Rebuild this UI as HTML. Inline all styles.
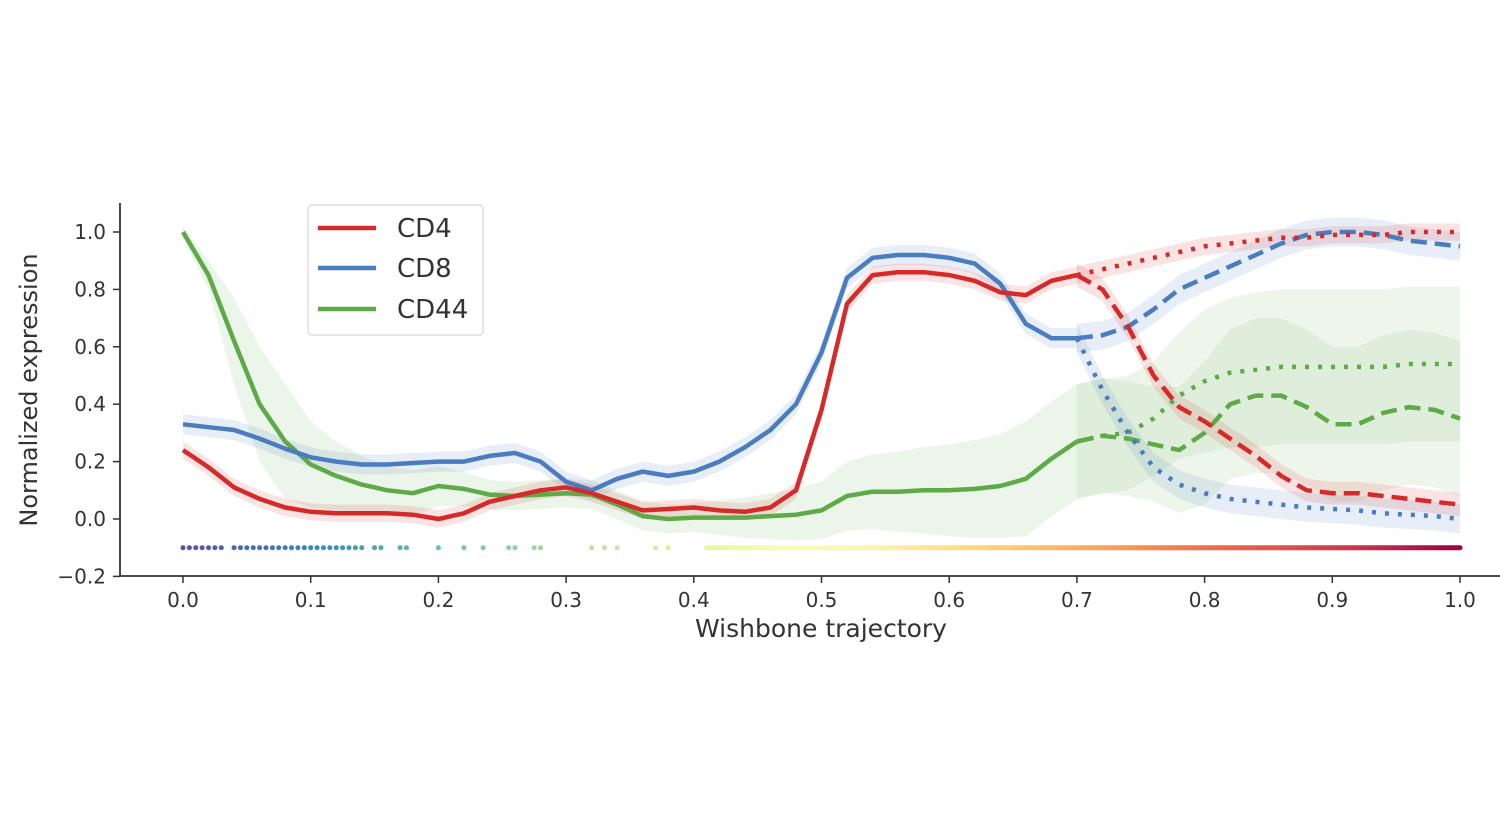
<!DOCTYPE html>
<html><head><meta charset="utf-8"><style>
html,body{margin:0;padding:0;background:#fff;}
svg{display:block;font-family:"DejaVu Sans","Liberation Sans",sans-serif;}
</style></head><body>
<svg id="chart" width="1500" height="839" viewBox="0 0 1500 839" xmlns="http://www.w3.org/2000/svg">
<g id="bands"></g>
<g id="lines"></g>
<g id="strip"></g>
<g id="axes"></g>
<g>
<rect x="308" y="205" width="175" height="130" rx="4" fill="#fff" fill-opacity="0.85" stroke="#ddd" stroke-width="1.5"/>
<line x1="318" y1="228" x2="376" y2="228" stroke="#d62a2a" stroke-width="4.5"/>
<text x="397" y="237" font-size="26" fill="#333">CD4</text>
<line x1="318" y1="268" x2="376" y2="268" stroke="#4a7cc0" stroke-width="4.5"/>
<text x="397" y="277" font-size="26" fill="#333">CD8</text>
<line x1="318" y1="309" x2="376" y2="309" stroke="#5daa46" stroke-width="4.5"/>
<text x="397" y="318" font-size="26" fill="#333">CD44</text>
</g>
<text x="821" y="637" font-size="25" fill="#333" text-anchor="middle">Wishbone trajectory</text>
<text transform="translate(37,390) rotate(-90)" font-size="24" fill="#333" text-anchor="middle">Normalized expression</text>
</svg>
<script>
const trunkX = [0,0.02,0.04,0.06,0.08,0.10,0.12,0.14,0.16,0.18,0.20,0.22,0.24,0.26,0.28,0.30,0.32,0.34,0.36,0.38,0.40,0.42,0.44,0.46,0.48,0.50,0.52,0.54,0.56,0.58,0.60,0.62,0.64,0.66,0.68,0.70];
const cd4Trunk = [0.24,0.18,0.11,0.07,0.04,0.025,0.02,0.02,0.02,0.015,0.0,0.02,0.06,0.08,0.10,0.11,0.09,0.06,0.03,0.035,0.04,0.03,0.025,0.04,0.10,0.38,0.75,0.85,0.86,0.86,0.85,0.83,0.79,0.78,0.83,0.85];
const cd8Trunk = [0.33,0.32,0.31,0.28,0.245,0.215,0.20,0.19,0.19,0.195,0.20,0.20,0.22,0.23,0.20,0.13,0.10,0.14,0.165,0.15,0.165,0.20,0.25,0.31,0.40,0.58,0.84,0.91,0.92,0.92,0.91,0.89,0.82,0.68,0.63,0.63];
const cd44Trunk = [1.0,0.85,0.62,0.40,0.27,0.19,0.15,0.12,0.10,0.09,0.115,0.105,0.085,0.08,0.085,0.09,0.085,0.05,0.01,0.0,0.005,0.005,0.005,0.01,0.015,0.03,0.08,0.095,0.095,0.10,0.10,0.105,0.115,0.14,0.21,0.27];
const cd44TrunkErr = [0.02,0.05,0.15,0.2,0.2,0.15,0.12,0.1,0.08,0.08,0.07,0.06,0.05,0.05,0.05,0.05,0.05,0.05,0.05,0.05,0.05,0.06,0.07,0.08,0.09,0.1,0.12,0.13,0.14,0.15,0.16,0.17,0.18,0.2,0.2,0.2];
const branchX = [0.70,0.72,0.74,0.76,0.78,0.80,0.82,0.84,0.86,0.88,0.90,0.92,0.94,0.96,0.98,1.0];
const cd4Dotted = [0.85,0.87,0.89,0.91,0.93,0.95,0.96,0.97,0.98,0.98,0.99,0.99,0.99,1.0,1.0,1.0];
const cd8Dotted = [0.63,0.45,0.30,0.18,0.12,0.09,0.07,0.06,0.05,0.04,0.035,0.03,0.02,0.015,0.01,0.0];
const cd44Dotted = [0.27,0.29,0.30,0.35,0.43,0.48,0.51,0.52,0.53,0.53,0.53,0.53,0.53,0.54,0.54,0.54];
const cd4Dashed = [0.85,0.80,0.67,0.50,0.39,0.34,0.28,0.22,0.15,0.10,0.09,0.09,0.08,0.07,0.06,0.05];
const cd8Dashed = [0.63,0.64,0.67,0.73,0.80,0.84,0.88,0.92,0.96,0.99,1.0,1.0,0.99,0.97,0.96,0.95];
const cd44Dashed = [0.27,0.29,0.28,0.26,0.24,0.30,0.40,0.43,0.43,0.39,0.33,0.33,0.37,0.39,0.38,0.35];
const cd44BranchErr = [0.2,0.2,0.2,0.2,0.22,0.25,0.26,0.27,0.27,0.27,0.27,0.27,0.27,0.27,0.27,0.27];
const stripDots = [0,0.005,0.01,0.015,0.02,0.025,0.03,0.04,0.045,0.05,0.055,0.06,0.065,0.07,0.075,0.08,0.085,0.09,0.095,0.1,0.105,0.11,0.115,0.12,0.125,0.13,0.135,0.14,0.15,0.155,0.17,0.175,0.2,0.22,0.235,0.255,0.26,0.275,0.28,0.32,0.33,0.34,0.37,0.38];
const xTicks = [0,0.1,0.2,0.3,0.4,0.5,0.6,0.7,0.8,0.9,1.0];
const yTicks = [-0.2,0,0.2,0.4,0.6,0.8,1.0];

const NS = "http://www.w3.org/2000/svg";
const X = v => 183 + v*1277;
const Y = v => 519 - v*287;
const RED="#d62a2a", BLUE="#4a7cc0", GREEN="#5daa46";
function mk(tag, attrs, parent){const e=document.createElementNS(NS,tag);for(const k in attrs)e.setAttribute(k,attrs[k]);parent.appendChild(e);return e;}
function pts(xs, ys){return xs.map((x,i)=>X(x).toFixed(1)+","+Y(ys[i]).toFixed(1)).join(" ");}
function bandPts(xs, ys, err){const up=xs.map((x,i)=>X(x).toFixed(1)+","+Y(ys[i]+(Array.isArray(err)?err[i]:err)).toFixed(1));const lo=xs.map((x,i)=>X(x).toFixed(1)+","+Y(ys[i]-(Array.isArray(err)?err[i]:err)).toFixed(1)).reverse();return up.concat(lo).join(" ");}
const bands=document.getElementById('bands'), lines=document.getElementById('lines');
function band(xs,ys,err,color,name,op){const p=mk('polygon',{points:bandPts(xs,ys,err),fill:color,'fill-opacity':op||0.13},bands);

}
function line(xs,ys,color,dash,name){const a={points:pts(xs,ys),fill:'none',stroke:color,'stroke-width':4.5,'stroke-linejoin':'round'};if(dash)a['stroke-dasharray']=dash;const l=mk('polyline',a,lines);

}
band(trunkX,cd44Trunk,cd44TrunkErr,GREEN,'cd44-trunk-band',0.12);
band(branchX,cd44Dotted,cd44BranchErr,GREEN,'cd44-dotted-band',0.1);
band(branchX,cd44Dashed,cd44BranchErr,GREEN,'cd44-dashed-band',0.1);
band(trunkX,cd8Trunk,0.035,BLUE,'cd8-trunk-band');
band(branchX,cd8Dotted,0.05,BLUE,'cd8-dotted-band');
band(branchX,cd8Dashed,0.05,BLUE,'cd8-dashed-band');
band(trunkX,cd4Trunk,0.03,RED,'cd4-trunk-band');
band(branchX,cd4Dotted,0.03,RED,'cd4-dotted-band');
band(branchX,cd4Dashed,0.04,RED,'cd4-dashed-band');
line(trunkX,cd44Trunk,GREEN,null,'cd44-trunk-line');
line(branchX,cd44Dotted,GREEN,'4 9','cd44-dotted-line');
line(branchX,cd44Dashed,GREEN,'16 8','cd44-dashed-line');
line(trunkX,cd8Trunk,BLUE,null,'cd8-trunk-line');
line(branchX,cd8Dotted,BLUE,'4 9','cd8-dotted-line');
line(branchX,cd8Dashed,BLUE,'16 8','cd8-dashed-line');
line(trunkX,cd4Trunk,RED,null,'cd4-trunk-line');
line(branchX,cd4Dotted,RED,'4 9','cd4-dotted-line');
line(branchX,cd4Dashed,RED,'16 8','cd4-dashed-line');

const cmap=["#5e4fa2","#3288bd","#66c2a5","#abdda4","#e6f598","#ffffbf","#fee08b","#fdae61","#f46d43","#d53e4f","#9e0142"];
function hex(c){return [1,3,5].map(i=>parseInt(c.substr(i,2),16));}
function col(t){t=Math.max(0,Math.min(1,t))*10;const i=Math.min(9,Math.floor(t)),f=t-i;const a=hex(cmap[i]),b=hex(cmap[i+1]);return "rgb("+a.map((v,k)=>Math.round(v+(b[k]-v)*f)).join(",")+")";}
const strip=document.getElementById('strip');
const defs=mk('defs',{},strip);
const lg=mk('linearGradient',{id:'sg',x1:X(0.41),x2:X(1),y1:0,y2:0,gradientUnits:'userSpaceOnUse'},defs);
for(let i=0;i<=10;i++){const t=0.41+0.59*i/10;mk('stop',{offset:i/10,'stop-color':col(t)},lg);}
const sl=mk('line',{x1:X(0.41),x2:X(1),y1:Y(-0.1),y2:Y(-0.1),stroke:'url(#sg)','stroke-width':5,'stroke-linecap':'round'},strip);


stripDots.forEach(d=>{const c=mk('circle',{cx:X(d),cy:Y(-0.1),r:2.5,fill:col(d)},strip);

});

const ax=document.getElementById('axes');
mk('line',{x1:120,y1:203,x2:120,y2:576,stroke:'#333','stroke-width':1.8},ax);
mk('line',{x1:120,y1:576,x2:1500,y2:576,stroke:'#333','stroke-width':1.8},ax);
yTicks.forEach(v=>{const y=Y(v);mk('line',{x1:113,y1:y,x2:120,y2:y,stroke:'#333','stroke-width':1.5},ax);
const t=mk('text',{x:106,y:y+7,'font-size':20,fill:'#333','text-anchor':'end'},ax);t.textContent=(v<0?"\u22120.2":v.toFixed(1));

});
xTicks.forEach(v=>{const x=X(v);mk('line',{x1:x,y1:576,x2:x,y2:583,stroke:'#333','stroke-width':1.5},ax);
const t=mk('text',{x:x,y:607,'font-size':20,fill:'#333','text-anchor':'middle'},ax);t.textContent=v.toFixed(1);

});
</script>
</body></html>
